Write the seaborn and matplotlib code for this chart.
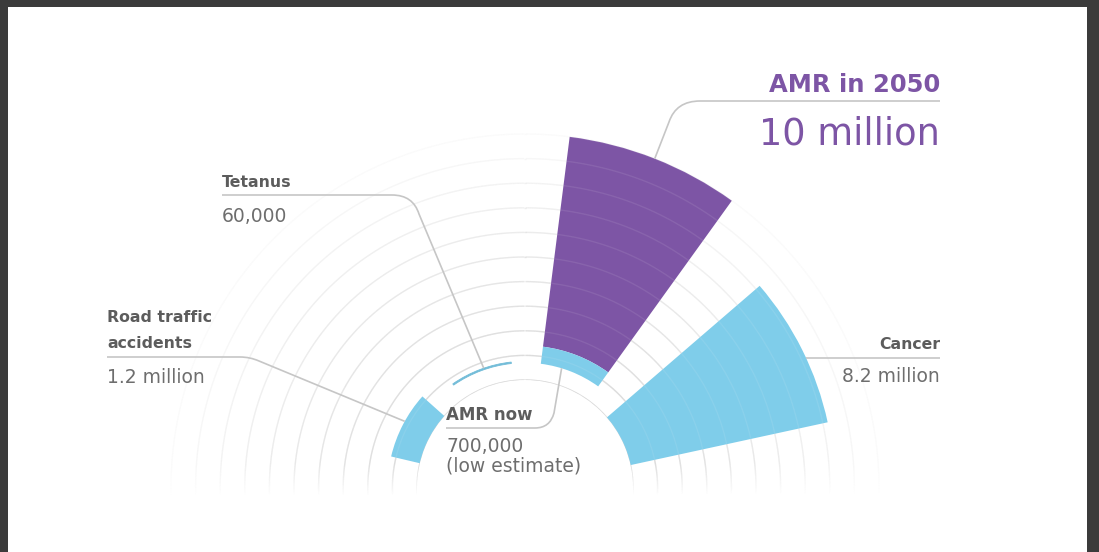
import numpy as np
import matplotlib.pyplot as plt
import seaborn as sns
from matplotlib.collections import LineCollection
from matplotlib.path import Path
from matplotlib.patches import PathPatch, Rectangle

sns.set_theme(style="white")
plt.rcParams['font.family'] = ['DejaVu Sans']

# deaths per year, in millions
causes = ['Cancer', 'AMR in 2050', 'Tetanus', 'Road traffic accidents']
deaths = [8.2, 10.0, 0.06, 1.2]
amr_now = 0.7
value_labels = ['8.2 million', '10 million', '60,000', '1.2 million']
amr_now_labels = ['AMR now', '700,000', '(low estimate)']

W, H = 1099, 552
cx, cy = 525, 488          # centre of the half wheel (image px)
hole = 108                 # radius of the empty middle, px
k = 24.6                   # px per million
rmax = 12.5
lift = 0.7                 # AMR now / tetanus sit one notch out
start, step, width = 26.5, 42, 28.5

blue = '#7fcdea'
purple = '#7d55a5'
grey_txt = '#6e6e6e'
grey_bold = '#5c5c5c'
line_col = '#c6c6c6'

fig = plt.figure(figsize=(W / 100, H / 100), dpi=100)
fig.patch.set_facecolor('white')

R = hole + k * rmax
ax = fig.add_axes([(cx - R) / W, (H - cy - R) / H, 2 * R / W, 2 * R / H],
                  projection='polar')
ax.set_ylim(0, rmax)
ax.set_rorigin(-hole / k)
ax.set_axis_off()

theta = np.deg2rad(start + step * np.arange(len(causes)))
wid = np.deg2rad(width)

# rings
for i in range(11):
    r_px = hole + k * i
    ext = np.arcsin(7 / r_px)
    th = np.linspace(-ext, np.pi + ext, 700)
    pts = np.column_stack([th, np.full_like(th, i)])
    segs = np.stack([pts[:-1], pts[1:]], axis=1)
    y_px = r_px * np.sin(th[:-1])
    fade = np.clip((y_px + 7) / 32, 0, 1)
    base = max(0.44 - 0.04 * i, 0.04)
    cols = np.zeros((len(segs), 4))
    cols[:, :3] = 0.62
    cols[:, 3] = base * fade
    ax.add_collection(LineCollection(segs, colors=cols, linewidths=1.0, zorder=1))
    cols_w = np.ones((len(segs), 4))
    cols_w[:, 3] = 0.09
    ax.add_collection(LineCollection(segs, colors=cols_w, linewidths=1.0, zorder=4))

# bars
ax.bar(theta[0], deaths[0], width=wid, bottom=0, color=blue, linewidth=0, zorder=2)
ax.bar(theta[1], deaths[1] - lift - amr_now, width=wid, bottom=lift + amr_now,
       color=purple, linewidth=0, zorder=2)
ax.bar(theta[1], amr_now, width=wid, bottom=lift, color=blue, linewidth=0, zorder=2)
ax.bar(theta[2], deaths[2], width=wid, bottom=lift, color='#72bcd8',
       edgecolor='#72bcd8', linewidth=0.6, zorder=2)
ax.bar(theta[3], deaths[3], width=wid, bottom=0, color=blue, linewidth=0, zorder=2)


def to_img(th_deg, v):
    x, y = ax.transData.transform((np.deg2rad(th_deg), v))
    return x, H - y


def fr(x, y):
    return (x / W, 1 - y / H)


def leader(pts, codes):
    verts = [fr(*p) for p in pts]
    fig.add_artist(PathPatch(Path(verts, codes), transform=fig.transFigure,
                             fill=False, edgecolor=line_col, linewidth=1.2))


L, Q = Path.LINETO, Path.CURVE3

# AMR in 2050
tgt = to_img(start + step, deaths[1])
leader([(940, 101), (700, 101), (676, 101), (669, 122), tgt],
       [Path.MOVETO, L, Q, Q, L])
fig.text(*fr(940, 92), causes[1], ha='right', va='baseline', fontsize=17.5,
         fontweight='bold', color=purple)
fig.text(*fr(940, 145), value_labels[1], ha='right', va='baseline', fontsize=26.5,
         color=purple)

# Cancer
rc = np.hypot(*(np.array(to_img(start, deaths[0])) - [cx, cy]))
yc = 358
tgt = to_img(np.degrees(np.arcsin((cy - yc) / rc)), deaths[0])
leader([(940, yc), tgt], [Path.MOVETO, L])
fig.text(*fr(940, 349), causes[0], ha='right', va='baseline', fontsize=11.3,
         fontweight='bold', color=grey_bold)
fig.text(*fr(940, 382), value_labels[0], ha='right', va='baseline', fontsize=13.5,
         color=grey_txt)

# Tetanus
tgt = to_img(start + 2 * step - 1.5, lift + deaths[2])
leader([(222, 195), (392, 195), (413, 195), (419, 214), tgt],
       [Path.MOVETO, L, Q, Q, L])
fig.text(*fr(222, 187), causes[2], ha='left', va='baseline', fontsize=11.3,
         fontweight='bold', color=grey_bold)
fig.text(*fr(222, 222), value_labels[2], ha='left', va='baseline', fontsize=13.5,
         color=grey_txt)

# Road traffic accidents
tgt = to_img(start + 3 * step - 1.5, deaths[3])
leader([(107, 357), (240, 357), (250, 357), (259, 361), tgt],
       [Path.MOVETO, L, Q, Q, L])
fig.text(*fr(107, 322), 'Road traffic', ha='left', va='baseline', fontsize=11.3,
         fontweight='bold', color=grey_bold)
fig.text(*fr(107, 348), 'accidents', ha='left', va='baseline', fontsize=11.3,
         fontweight='bold', color=grey_bold)
fig.text(*fr(107, 383), value_labels[3], ha='left', va='baseline', fontsize=13.5,
         color=grey_txt)

# AMR now
tgt = to_img(start + step + 4.5, lift)
leader([(446, 428), (535, 428), (550, 428), (554, 413), tgt],
       [Path.MOVETO, L, Q, Q, L])
fig.text(*fr(446, 420), amr_now_labels[0], ha='left', va='baseline', fontsize=12,
         fontweight='bold', color=grey_bold)
fig.text(*fr(446, 452), amr_now_labels[1], ha='left', va='baseline', fontsize=13.5,
         color=grey_txt)
fig.text(*fr(446, 472), amr_now_labels[2], ha='left', va='baseline', fontsize=13.5,
         color=grey_txt)

# dark frame of the screenshot
for x0, y0, w0, h0 in [(0, 1 - 7 / H, 1, 7 / H), (0, 0, 8 / W, 1), (1 - 12 / W, 0, 12 / W, 1)]:
    fig.add_artist(Rectangle((x0, y0), w0, h0, transform=fig.transFigure,
                             facecolor='#3b3b3b', edgecolor='none', zorder=10))

fig.savefig('out.png', dpi=100, facecolor='white')
